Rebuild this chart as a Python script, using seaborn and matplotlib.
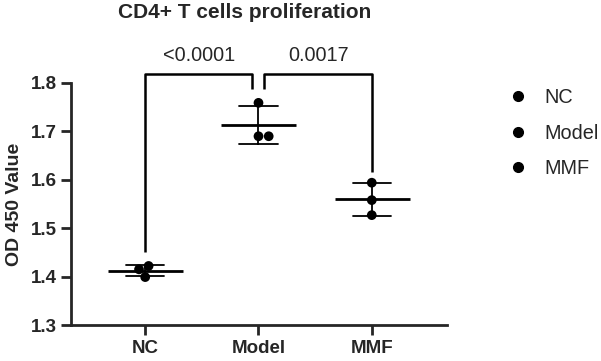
import matplotlib
matplotlib.use("Agg")
import matplotlib.pyplot as plt
from matplotlib.lines import Line2D
import seaborn as sns
import pandas as pd

# data
groups = ["NC", "Model", "MMF"]
nc_vals = [1.422, 1.399, 1.415]
model_vals = [1.759, 1.690, 1.690]
mmf_vals = [1.594, 1.558, 1.527]
p_labels = ["<0.0001", "0.0017"]

df = pd.DataFrame({
    "Group": ["NC"] * 3 + ["Model"] * 3 + ["MMF"] * 3,
    "OD": nc_vals + model_vals + mmf_vals,
})

sns.set_style("ticks")
plt.rcParams['font.family'] = ['Liberation Sans', 'DejaVu Sans']

fig = plt.figure(figsize=(6.01, 3.61), dpi=100)
ax = fig.add_axes([71 / 601, 1 - 325 / 361, 376 / 601, (325 - 83) / 361])

# mean line + SD error bars
sns.pointplot(data=df, x="Group", y="OD", order=groups, errorbar="sd",
              capsize=0.34, linestyle="none", marker="_", markersize=54,
              markeredgewidth=2, color="black",
              err_kws={"linewidth": 1.3, "color": "black"}, ax=ax, zorder=2)

# individual points
sns.swarmplot(data=df, x="Group", y="OD", order=groups, hue="Group",
              hue_order=groups, palette=["black"] * 3, size=7, ax=ax,
              zorder=3, legend=False)

ax.set_xlim(-0.655, 2.664)
ax.set_ylim(1.3, 1.8)
ax.set_yticks([1.3, 1.4, 1.5, 1.6, 1.7, 1.8])
ax.set_xlabel("")
ax.set_ylabel("OD 450 Value", fontsize=14, fontweight="bold", labelpad=6)
for s in ["top", "right"]:
    ax.spines[s].set_visible(False)
for s in ["left", "bottom"]:
    ax.spines[s].set_linewidth(2)
ax.tick_params(width=2, length=7.5, labelsize=13.5, pad=2.5)
ax.tick_params(axis="x", pad=3.5)
for lbl in ax.get_xticklabels() + ax.get_yticklabels():
    lbl.set_fontweight("bold")

# significance brackets
kw = dict(color="black", lw=1.8, clip_on=False, solid_capstyle="butt")
ax.plot([0, 0, 0.947, 0.947], [1.451, 1.818, 1.818, 1.787], **kw)
ax.plot([1.053, 1.053, 2, 2], [1.787, 1.818, 1.818, 1.616], **kw)
ax.text(0.473, 1.856, p_labels[0], ha="center", va="center", fontsize=14.3)
ax.text(1.53, 1.856, p_labels[1], ha="center", va="center", fontsize=14.3)

handles = [Line2D([], [], marker="o", color="black", linestyle="none",
                  markersize=7) for g in groups]
ax.legend(handles, groups, loc="center left", bbox_to_anchor=(1.114, 0.793),
          frameon=False, fontsize=14.3, labelspacing=0.84, handletextpad=0.85,
          handlelength=1.0)

fig.text(245 / 601, 1 - 18.5 / 361, "CD4+ T cells proliferation", ha="center",
         va="baseline", fontsize=15, fontweight="bold")

fig.savefig("out.png", dpi=100)
